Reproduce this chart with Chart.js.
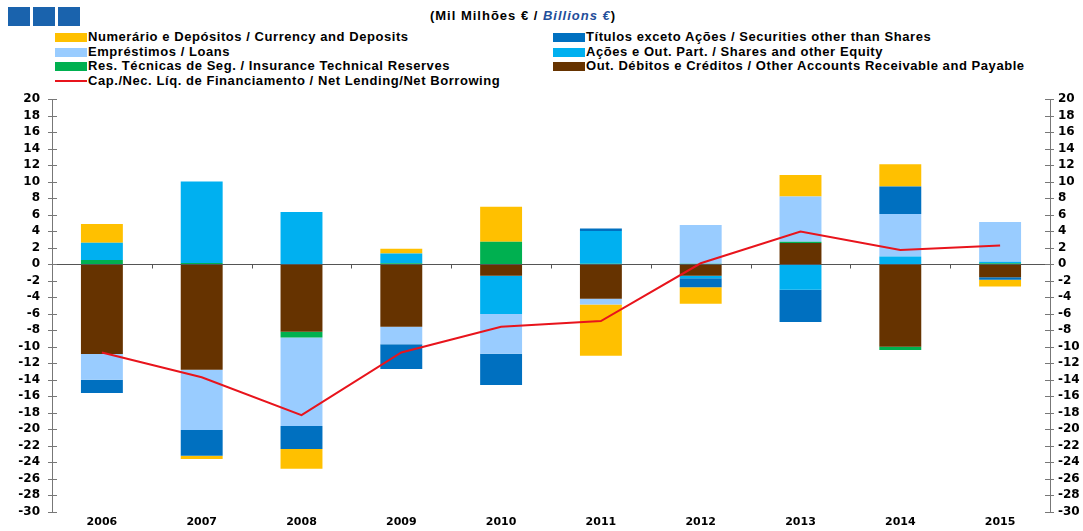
<!DOCTYPE html>
<html>
<head>
<meta charset="utf-8">
<script src="https://cdn.jsdelivr.net/npm/chart.js@4.4.1/dist/chart.umd.min.js"></script>
<style>
  body { margin: 0; background: #fff; }
  #wrap { position: relative; width: 1083px; height: 531px; overflow: hidden; }
  canvas { position: absolute; left: 0; top: 0; }
  .sq { position: absolute; top: 7px; width: 22px; height: 19px; background: #1a63ad; }
  #title { position: absolute; top: 8px; left: 0; width: 1046px; text-align: center;
    font: bold 13px "Liberation Sans", Arial, sans-serif; letter-spacing: 1px; color: #000; }
  #title i { color: #1f4e9a; }
  .lg { position: absolute; font: bold 13px "Liberation Sans", Arial, sans-serif; color: #000;
    white-space: nowrap; line-height: 14px; letter-spacing: 0.56px; }
  .lg span.sw { display: inline-block; width: 32px; height: 9px; vertical-align: -1px; margin-right: 1px; }
  .lg span.ln { display: inline-block; width: 32px; height: 2px; vertical-align: 3px; margin-right: 1px; }
</style>
</head>
<body>
<div id="wrap">
  <div class="sq" style="left:8px"></div>
  <div class="sq" style="left:33px"></div>
  <div class="sq" style="left:58px"></div>
  <div id="title">(Mil Milhões € / <i>Billions €</i>)</div>
  <div id="legend"></div>
  <canvas id="chart" width="1083" height="531"></canvas>
</div>
<script>
// categories
const years = ["2006", "2007", "2008", "2009", "2010", "2011", "2012", "2013", "2014", "2015"]

// series values (Mil Milhões €)
const otherAccounts = [-10.9, -12.8, -8.2, -7.6, -1.4, -4.2, -1.4, 2.55, -10.0, -1.6]
const insurance = [0.5, 0.15, -0.7, 0.1, 2.7, 0.05, 0.05, 0.15, -0.4, 0.1]
const shares = [2.1, 9.85, 6.3, 1.2, -4.65, 3.95, -0.3, -3.1, 0.93, 0.2]
const loans = [-3.1, -7.3, -10.7, -2.1, -4.8, -0.7, 4.7, 5.5, 5.13, 4.8]
const securities = [-1.6, -3.1, -2.8, -3.0, -3.8, 0.3, -1.1, -3.9, 3.35, -0.3]
const currency = [2.25, -0.4, -2.4, 0.55, 4.25, -6.2, -2.0, 2.6, 2.7, -0.8]
const netLending = [-10.7, -13.7, -18.3, -10.7, -7.6, -6.9, 0.1, 3.95, 1.7, 2.25]

// axis
const yMin = -30
const yMax = 20
const yStep = 2

const legendItems = [
  { label: "Numerário e Depósitos / Currency and Deposits", color: "#FFC000", x: 55, row: 0 },
  { label: "Empréstimos / Loans", color: "#99CCFF", x: 55, row: 1 },
  { label: "Res. Técnicas de Seg. / Insurance Technical Reserves", color: "#00B050", x: 55, row: 2 },
  { label: "Cap./Nec. Líq. de Financiamento / Net Lending/Net Borrowing", color: "#E8141C", x: 55, row: 3, line: true },
  { label: "Títulos exceto Ações / Securities other than Shares", color: "#0070C0", x: 553, row: 0 },
  { label: "Ações e Out. Part. / Shares and other Equity", color: "#00B0F0", x: 553, row: 1 },
  { label: "Out. Débitos e Créditos / Other Accounts Receivable and Payable", color: "#663300", x: 553, row: 2 },
]

const legendEl = document.getElementById("legend")
legendItems.forEach((it) => {
  const d = document.createElement("div")
  d.className = "lg"
  d.style.left = it.x + "px"
  d.style.top = (30 + it.row * 14.5) + "px"
  const s = document.createElement("span")
  s.className = it.line ? "ln" : "sw"
  s.style.background = it.color
  d.appendChild(s)
  d.appendChild(document.createTextNode(it.label))
  legendEl.appendChild(d)
})

// zero line, category ticks and y tick marks
const axisDecor = {
  id: "axisDecor",
  beforeDatasetDraw(chart, args) {
    if (args.meta.type !== "line") return
    const ctx = chart.ctx
    const x = chart.scales.x
    const y = chart.scales.y
    const y2 = chart.scales.y2
    const area = chart.chartArea
    const zy = Math.round(y.getPixelForValue(0)) + 0.5
    ctx.save()
    ctx.strokeStyle = "#555"
    ctx.lineWidth = 1
    ctx.beginPath()
    ctx.moveTo(area.left, zy)
    ctx.lineTo(area.right, zy)
    for (let i = 0; i < years.length - 1; i++) {
      const bx = Math.round((x.getPixelForValue(i) + x.getPixelForValue(i + 1)) / 2) + 0.5
      ctx.moveTo(bx, zy)
      ctx.lineTo(bx, zy + 4)
    }
    ctx.stroke()
    ctx.strokeStyle = "#777"
    ctx.beginPath()
    for (let v = yMin; v <= yMax; v += yStep) {
      const py = Math.round(y.getPixelForValue(v)) + 0.5
      ctx.moveTo(y.right - 4, py)
      ctx.lineTo(y.right + 5, py)
      ctx.moveTo(y2.left - 5, py)
      ctx.lineTo(y2.left + 4, py)
    }
    ctx.stroke()
    ctx.restore()
  },
}

const barDs = (label, data, color) => ({
  type: "bar",
  label,
  data,
  backgroundColor: color,
  borderWidth: 0,
  stack: "flows",
  order: 1,
  barPercentage: 0.42,
  categoryPercentage: 1,
})

const tickFont = { family: "DejaVu Sans", size: 12, weight: "bold" }

const ctx = document.getElementById("chart").getContext("2d")
new Chart(ctx, {
  data: {
    labels: years,
    datasets: [
      {
        type: "line",
        label: "Cap./Nec. Líq. de Financiamento / Net Lending/Net Borrowing",
        data: netLending,
        borderColor: "#E8141C",
        borderWidth: 2,
        pointRadius: 0,
        tension: 0,
        stack: "net",
        order: 0,
      },
      barDs("Out. Débitos e Créditos / Other Accounts Receivable and Payable", otherAccounts, "#663300"),
      barDs("Res. Técnicas de Seg. / Insurance Technical Reserves", insurance, "#00B050"),
      barDs("Ações e Out. Part. / Shares and other Equity", shares, "#00B0F0"),
      barDs("Empréstimos / Loans", loans, "#99CCFF"),
      barDs("Títulos exceto Ações / Securities other than Shares", securities, "#0070C0"),
      barDs("Numerário e Depósitos / Currency and Deposits", currency, "#FFC000"),
    ],
  },
  options: {
    responsive: false,
    animation: false,
    layout: { padding: { top: 99, left: 0, right: 0, bottom: 0 } },
    plugins: {
      legend: { display: false },
      tooltip: { enabled: false },
    },
    scales: {
      x: {
        stacked: true,
        grid: { display: false, tickLength: 0 },
        border: { display: false },
        ticks: {
          color: "#000",
          padding: 4,
          autoSkip: false,
          maxRotation: 0,
          font: { family: "DejaVu Sans", size: 11, weight: "bold" },
        },
        afterFit: (s) => { s.height = 19 },
      },
      y: {
        stacked: true,
        min: yMin,
        max: yMax,
        grid: { display: false, tickLength: 0 },
        border: { display: true, color: "#777" },
        ticks: {
          stepSize: yStep,
          autoSkip: false,
          color: "#000",
          padding: 12,
          font: tickFont,
        },
        afterFit: (s) => { s.width = 52 },
      },
      y2: {
        position: "right",
        min: yMin,
        max: yMax,
        grid: { display: false, tickLength: 0 },
        border: { display: true, color: "#777" },
        ticks: {
          stepSize: yStep,
          autoSkip: false,
          color: "#000",
          padding: 8,
          font: tickFont,
        },
        afterFit: (s) => { s.width = 33 },
      },
    },
  },
  plugins: [axisDecor],
})
</script>
</body>
</html>
